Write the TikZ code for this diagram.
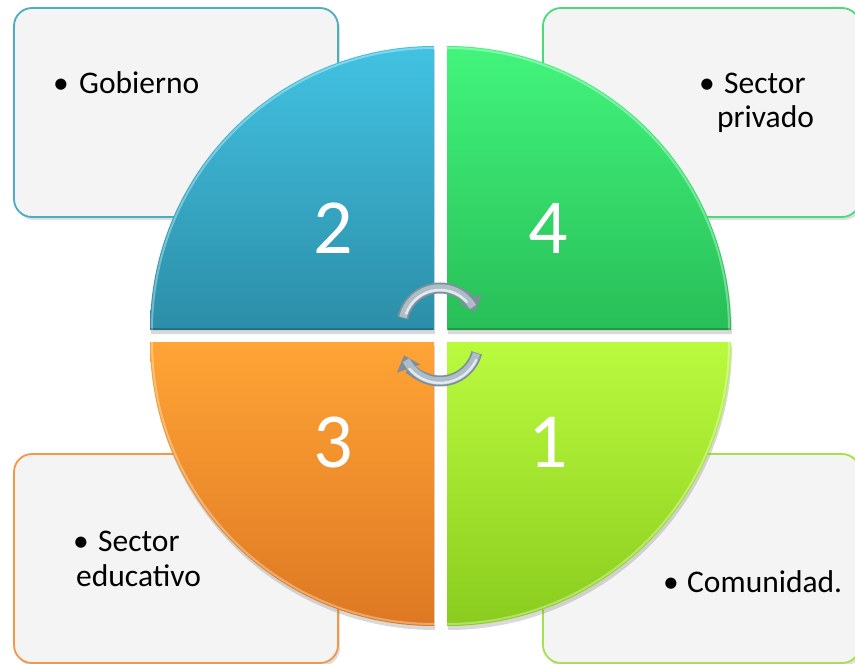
\documentclass[tikz,border=0pt]{standalone}
\usepackage{fontspec}
\setmainfont{Carlito}
\usetikzlibrary{arrows.meta,shadows}
\definecolor{bluebd}{HTML}{4BACC6}
\definecolor{greenbd}{HTML}{4CD97B}
\definecolor{orangebd}{HTML}{F79646}
\definecolor{limebd}{HTML}{A6E04A}
\definecolor{boxfill}{HTML}{F4F4F4}
\definecolor{blueT}{HTML}{42C2E2}
\definecolor{blueB}{HTML}{2C8EA8}
\definecolor{greenT}{HTML}{42F57C}
\definecolor{greenB}{HTML}{28BE58}
\definecolor{orangeT}{HTML}{FFA436}
\definecolor{orangeB}{HTML}{DD7822}
\definecolor{limeT}{HTML}{BAFA3E}
\definecolor{limeB}{HTML}{8ACC1E}
\definecolor{silverD}{HTML}{7E909B}
\definecolor{silver}{HTML}{AEBEC8}
\definecolor{silverL}{HTML}{E2EAEF}
\tikzset{
  infobox/.style={fill=boxfill, line width=1.8pt, rounded corners=18pt,
    drop shadow={opacity=0.25, shadow xshift=2pt, shadow yshift=-3pt}},
  quad/.style={drop shadow={opacity=0.3, shadow xshift=1pt, shadow yshift=-4pt}},
  boxtext/.style={inner sep=0pt, anchor=base west, font=\fontsize{31.5}{34}\selectfont},
  bullettext/.style={inner sep=0pt, anchor=base, font=\fontsize{31.5}{34}\selectfont},
  numtext/.style={inner sep=0pt, anchor=base, text=white, font=\fontsize{78}{80}\selectfont},
  cycleout/.style={line width=11pt, silverD, -{Triangle[length=14pt,width=24pt]}},
  cyclemid/.style={line width=7.5pt, silver},
  cyclehi/.style={line width=2.5pt, silverL, line cap=round}
}
\begin{document}
\begin{tikzpicture}[x=1pt,y=-1pt]
\useasboundingbox (0,0) rectangle (855,664);
\clip (0,0) rectangle (855,664);
% boxes
\path[infobox, draw=bluebd] (14,8) rectangle (338,217);
\path[infobox, draw=greenbd] (543,8) rectangle (860,217);
\path[infobox, draw=orangebd] (14,454) rectangle (338,663);
\path[infobox, draw=limebd] (543,454) rectangle (860,663);
% box texts
\node[bullettext] (b1) at (61,93) {•};
\node[boxtext] (t1) at (79,93) {Gobierno};
\node[bullettext] (b2) at (707,93) {•};
\node[boxtext] (t2a) at (724,93) {Sector};
\node[boxtext] (t2b) at (717,127) {privado};
\node[bullettext] (b3) at (81,551) {•};
\node[boxtext] (t3a) at (98,551) {Sector};
\node[boxtext] (t3b) at (76,586) {educativo};
\node[bullettext] (b4) at (671,592) {•};
\node[boxtext] (t4) at (687,592) {Comunidad.};
% quadrants
\path[quad, top color=blueT, bottom color=blueB] (434,330) -- (150,330) arc[start angle=180, end angle=270, radius=284] -- cycle;
\path[quad, top color=greenT, bottom color=greenB] (447,330) -- (447,46) arc[start angle=270, end angle=360, radius=284] -- cycle;
\path[quad, top color=orangeT, bottom color=orangeB] (434,342) -- (434,626) arc[start angle=90, end angle=180, radius=284] -- cycle;
\path[quad, top color=limeT, bottom color=limeB] (447,342) -- (731,342) arc[start angle=0, end angle=90, radius=284] -- cycle;
% bevel highlights
\draw[white, opacity=0.35, line width=2pt] (152,330) arc[start angle=180, end angle=270, radius=282];
\draw[white, opacity=0.35, line width=2pt] (447,48) arc[start angle=270, end angle=360, radius=282];
\draw[white, opacity=0.35, line width=2pt] (434,624) arc[start angle=90, end angle=180, radius=282];
\draw[white, opacity=0.35, line width=2pt] (729,342) arc[start angle=0, end angle=90, radius=282];
\draw[black, opacity=0.2, line width=2pt] (150,329) -- (433,329);
\draw[black, opacity=0.2, line width=2pt] (448,329) -- (730,329);
% numbers
\node[numtext] (n2) at (333,253) {2};
\node[numtext] (n4) at (548,253) {4};
\node[numtext] (n3) at (333,467) {3};
\node[numtext] (n1) at (548,467) {1};
% cycle arrows
\draw[cycleout] (440,326) ++(192:38) arc[start angle=192, end angle=338, radius=38];
\draw[cyclemid] (440,326) ++(193:38) arc[start angle=193, end angle=330, radius=38];
\draw[cyclehi] (440,326) ++(200:36) arc[start angle=200, end angle=318, radius=36];
\draw[cycleout] (440,343) ++(15:38) arc[start angle=15, end angle=161, radius=38];
\draw[cyclemid] (440,343) ++(16:38) arc[start angle=16, end angle=153, radius=38];
\draw[cyclehi] (440,343) ++(25:40) arc[start angle=25, end angle=140, radius=40];
\end{tikzpicture}
\end{document}
